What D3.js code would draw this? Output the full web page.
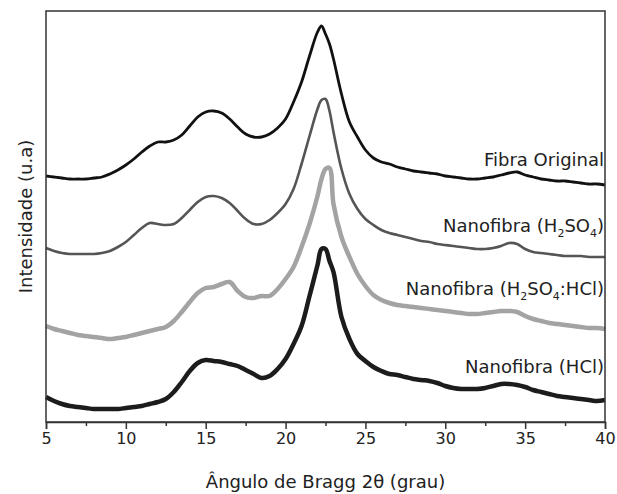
<!DOCTYPE html>
<html>
<head>
<meta charset="utf-8">
<script src="https://cdn.jsdelivr.net/npm/d3@7"></script>
<style>
  html, body { margin: 0; padding: 0; background: #fff; }
  svg { display: block; font-family: "DejaVu Sans", Verdana, sans-serif; }
</style>
</head>
<body>
<svg id="chart" width="617" height="494"></svg>
<script>
// 2θ positions (degrees)
const twoTheta = [5,5.5,6,6.5,7,7.5,8,8.5,9,9.5,10,10.5,11,11.5,12,12.5,13,13.5,14,14.5,15,15.5,16,16.5,17,17.5,18,18.5,19,19.5,20,20.5,21,21.5,22,22.25,22.5,22.75,23,23.5,24,24.5,25,25.5,26,26.5,27,27.5,28,28.5,29,29.5,30,30.5,31,31.5,32,32.5,33,33.5,34,34.5,35,35.5,36,36.5,37,37.5,38,38.5,39,39.5,40];

// Intensities (u.a., curves stacked with offsets as in the figure)
const fibraOriginal = [246,245,244,243,243,243,244,245,248,252,257,263,270,276,280,280,282,287,296,305,310,311,309,303,295,288,285,285,288,294,303,320,340,366,390,396,388,378,363,328,300,285,272,264,260,258,255,253,251,250,249,248,246,245,244,243,243,244,245,247,249,250,247,245,243,242,241,241,240,239,238,238,237];

const nanoH2SO4 = [174,171,169,168,168,168,168,169,171,175,180,187,194,199,198,197,198,204,212,220,225,226,224,219,211,203,198,198,202,209,218,233,258,286,313,322,323,311,290,253,228,213,203,197,192,189,187,185,183,181,180,178,177,176,175,174,173,173,174,176,179,178,173,170,169,168,167,166,166,166,165,165,165];

const nanoH2SO4HCl = [96,93,91,89,87,86,85,84,83,84,85,87,89,91,93,95,101,110,120,129,134,135,138,140,131,125,124,126,126,133,143,155,175,198,226,243,253,254,218,185,165,148,136,127,122,119,117,116,115,114,113,112,111,110,109,108,108,109,110,111,111,110,106,103,101,99,98,97,96,95,94,94,93];

const nanoHCl = [25,21,18,16,15,14,13,13,13,13,14,15,16,18,20,23,30,40,51,59,62,61,60,58,56,52,48,44,46,53,63,78,96,126,157,173,173,161,150,105,83,68,61,55,51,48,47,45,43,42,41,39,36,34,33,33,33,34,36,38,38,37,35,32,30,28,26,25,24,23,22,21,22];

const xTicks = [5,10,15,20,25,30,35,40];
const xMinorTicks = [7.5,12.5,17.5,22.5,27.5,32.5,37.5];

const seriesList = [
  { name: "Fibra Original", values: fibraOriginal, color: "#111111", width: 2.8,
    label: [{t:"Fibra Original"}], labelY: 166 },
  { name: "Nanofibra (H2SO4)", values: nanoH2SO4, color: "#555555", width: 2.6,
    label: [{t:"Nanofibra (H"},{t:"2",sub:true},{t:"SO"},{t:"4",sub:true},{t:")"}], labelY: 232 },
  { name: "Nanofibra (H2SO4:HCl)", values: nanoH2SO4HCl, color: "#a3a3a3", width: 4.5,
    label: [{t:"Nanofibra (H"},{t:"2",sub:true},{t:"SO"},{t:"4",sub:true},{t:":HCl)"}], labelY: 295 },
  { name: "Nanofibra (HCl)", values: nanoHCl, color: "#1c1c1c", width: 4.5,
    label: [{t:"Nanofibra (HCl)"}], labelY: 373 }
];

const svg = d3.select("#chart");
const margin = { left: 46, top: 11, right: 12, bottom: 72 };
const W = 617, H = 494;
const x0 = margin.left, x1 = W - margin.right, y0 = H - margin.bottom, y1 = margin.top;

const x = d3.scaleLinear().domain([5, 40]).range([x0, x1]);
const y = d3.scaleLinear().domain([0, 411]).range([y0, y1]);

// curves
const line = d3.line()
  .x(d => x(d[0]))
  .y(d => y(d[1]))
  .curve(d3.curveCatmullRom.alpha(0.5));

const plot = svg.append("g");
seriesList.forEach(s => {
  const pts = twoTheta.map((t, i) => [t, s.values[i]]);
  plot.append("path")
    .datum(pts)
    .attr("d", line)
    .attr("fill", "none")
    .attr("stroke", s.color)
    .attr("stroke-width", s.width)
    .attr("stroke-linejoin", "round");
});

// frame
svg.append("rect")
  .attr("x", x0).attr("y", y1)
  .attr("width", x1 - x0).attr("height", y0 - y1)
  .attr("fill", "none").attr("stroke", "#333").attr("stroke-width", 1.5);

// x axis
const xAxis = d3.axisBottom(x).tickValues(xTicks).tickSize(7).tickPadding(4).tickFormat(d3.format("d"));
const gx = svg.append("g").attr("transform", `translate(0,${y0})`).call(xAxis);
gx.select(".domain").attr("stroke", "#333").attr("stroke-width", 1.5);
gx.selectAll(".tick line").attr("stroke", "#333").attr("stroke-width", 1.5);
gx.selectAll(".tick text").attr("font-size", 16).attr("fill", "#222")
  .attr("font-family", "DejaVu Sans, Verdana, sans-serif");

const xMinor = d3.axisBottom(x).tickValues(xMinorTicks).tickSize(4).tickFormat("");
const gm = svg.append("g").attr("transform", `translate(0,${y0})`).call(xMinor);
gm.select(".domain").remove();
gm.selectAll(".tick line").attr("stroke", "#333").attr("stroke-width", 1.5);

// axis titles
svg.append("text")
  .attr("x", (x0 + x1) / 2).attr("y", 488)
  .attr("text-anchor", "middle").attr("font-size", 18).attr("fill", "#222")
  .text("Ângulo de Bragg 2θ (grau)");

svg.append("text")
  .attr("transform", `translate(32,${(y0 + y1) / 2}) rotate(-90)`)
  .attr("text-anchor", "middle").attr("font-size", 18).attr("fill", "#222")
  .text("Intensidade (u.a)");

// curve labels
seriesList.forEach(s => {
  const t = svg.append("text")
    .attr("x", x1 - 1).attr("y", s.labelY)
    .attr("text-anchor", "end").attr("font-size", 18).attr("fill", "#222");
  s.label.forEach((p, i) => {
    const ts = t.append("tspan").text(p.t);
    if (p.sub) ts.attr("font-size", 11).attr("dy", 5);
    else if (i > 0) ts.attr("dy", -5);
  });
});
</script>
</body>
</html>
